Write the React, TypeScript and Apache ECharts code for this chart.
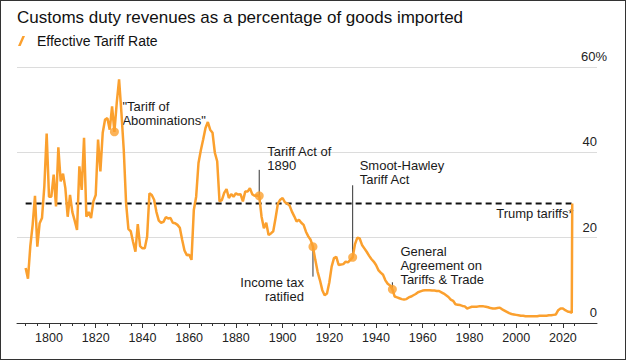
import React, { useEffect, useRef } from 'react';
import * as echarts from 'echarts';

const FONT = '"Liberation Sans", Arial, Helvetica, sans-serif';
const ORANGE = '#FBA02E';

const titleText = 'Customs duty revenues as a percentage of goods imported';
const seriesName = 'Effective Tariff Rate';

// [year, effective tariff rate %]
const tariffSeries: [number, number][] = [
  [1790, 12.9], [1791, 10.4], [1792, 18], [1793, 23], [1794, 29.8], [1795, 17.9], [1796, 23.4], [1797, 24.6],
  [1798, 32], [1799, 44.4], [1800, 29.6], [1801, 29.6], [1802, 34.8], [1803, 27.3], [1804, 41.2], [1805, 33.2],
  [1806, 35], [1807, 31.6], [1808, 24.9], [1809, 30], [1810, 26], [1811, 24], [1812, 21.8], [1813, 36.7],
  [1814, 31.2], [1815, 43.4], [1816, 24.9], [1817, 26], [1818, 24.6], [1819, 28.5], [1820, 30], [1821, 43],
  [1822, 35.5], [1823, 44.6], [1824, 47.7], [1825, 48], [1826, 45.3], [1827, 50.8], [1828, 44.8], [1829, 51.6],
  [1830, 57.1], [1831, 49.3], [1832, 40.6], [1833, 28.1], [1834, 22], [1835, 21.5], [1836, 19], [1837, 16.7],
  [1838, 23.2], [1839, 18], [1840, 17.5], [1841, 17.5], [1842, 20.2], [1843, 30.4], [1844, 30], [1845, 28.9],
  [1846, 26], [1847, 24], [1848, 23.5], [1849, 23.7], [1850, 24.8], [1851, 24.5], [1852, 24.6], [1853, 23.5],
  [1854, 23.4], [1855, 23], [1856, 22.3], [1857, 19.5], [1858, 17], [1859, 15.9], [1860, 16], [1861, 14.8],
  [1862, 26.5], [1863, 29.6], [1864, 37.5], [1865, 40.5], [1866, 43], [1867, 45.7], [1868, 47.1], [1869, 45.3],
  [1870, 44.6], [1871, 39.9], [1872, 37.9], [1873, 28.5], [1874, 28.8], [1875, 30.5], [1876, 31.4], [1877, 29.3],
  [1878, 30.2], [1879, 29.6], [1880, 30.4], [1881, 30.1], [1882, 30.2], [1883, 28.5], [1884, 30.8], [1885, 30.8],
  [1886, 31.6], [1887, 30.2], [1888, 29.8], [1889, 29.9], [1890, 29.8], [1891, 24.9], [1892, 22.2], [1893, 23.5],
  [1894, 20.6], [1895, 21], [1896, 21.5], [1897, 24.6], [1898, 28], [1899, 28.9], [1900, 29.3], [1901, 28.3],
  [1902, 28], [1903, 27.5], [1904, 26.1], [1905, 25], [1906, 23.8], [1907, 24.2], [1908, 23.5], [1909, 23],
  [1910, 21.4], [1911, 20.3], [1912, 19.5], [1913, 17.9], [1914, 14.8], [1915, 12], [1916, 10], [1917, 7.7],
  [1918, 6.5], [1919, 6.9], [1920, 9.5], [1921, 13.2], [1922, 15.2], [1923, 15.5], [1924, 13.6], [1925, 13.7],
  [1926, 13.8], [1927, 14.4], [1928, 14.2], [1929, 14.8], [1930, 15.4], [1931, 18.5], [1932, 20], [1933, 19.8],
  [1934, 18.3], [1935, 17.5], [1936, 16.7], [1937, 15.8], [1938, 15], [1939, 14.4], [1940, 13.6], [1941, 12.4],
  [1942, 11.8], [1943, 11.3], [1944, 10], [1945, 9.2], [1946, 8.8], [1947, 7.9], [1948, 6.2], [1949, 6],
  [1950, 5.8], [1951, 5.6], [1952, 5.5], [1953, 5.6], [1954, 6], [1955, 6.2], [1956, 6.5], [1957, 6.8],
  [1958, 7.2], [1959, 7.4], [1960, 7.6], [1961, 7.7], [1962, 7.7], [1963, 7.7], [1964, 7.6], [1965, 7.6],
  [1966, 7.5], [1967, 7.5], [1968, 7.2], [1969, 6.9], [1970, 6.5], [1971, 6.1], [1972, 5.5], [1973, 5.2],
  [1974, 4.4], [1975, 4.3], [1976, 4.2], [1977, 4], [1978, 3.9], [1979, 3.4], [1980, 3.6], [1981, 3.8],
  [1982, 3.8], [1983, 3.8], [1984, 3.9], [1985, 3.9], [1986, 3.9], [1987, 3.8], [1988, 3.7], [1989, 3.5],
  [1990, 3.4], [1991, 3.4], [1992, 3.5], [1993, 3.6], [1994, 3.2], [1995, 2.9], [1996, 2.6], [1997, 2.3],
  [1998, 2.1], [1999, 2], [2000, 1.9], [2001, 1.8], [2002, 1.7], [2003, 1.7], [2004, 1.6], [2005, 1.6],
  [2006, 1.6], [2007, 1.6], [2008, 1.6], [2009, 1.6], [2010, 1.7], [2011, 1.7], [2012, 1.7], [2013, 1.7],
  [2014, 1.8], [2015, 1.8], [2016, 1.9], [2017, 2], [2018, 3], [2019, 3.4], [2020, 3.4], [2021, 3],
  [2022, 2.7], [2023, 2.6], [2023.8, 2.4], [2024, 28],
];

const eventYears = [1828, 1890, 1913, 1930, 1947];
const eventRates = [44.8, 29.8, 17.9, 15.4, 7.9];
const eventLabels = [
  '"Tariff of\nAbominations"',
  'Tariff Act of\n1890',
  'Income tax\nratified',
  'Smoot-Hawley\nTariff Act',
  'General\nAgreement on\nTariffs & Trade',
];

const trumpRate = 28;
const trumpSpan = [1790, 2023.7];
const trumpLabel = 'Trump tariffs*';

const xMin = 1786.3;
const xMax = 2034.6;
const xLabelYears = [1800, 1820, 1840, 1860, 1880, 1900, 1920, 1940, 1960, 1980, 2000, 2020];
const xTickYears = [
  1790, 1795, 1800, 1805, 1810, 1815, 1820, 1825, 1830, 1835, 1840, 1845, 1850, 1855, 1860, 1865,
  1870, 1875, 1880, 1885, 1890, 1895, 1900, 1905, 1910, 1915, 1920, 1925, 1930, 1935, 1940, 1945,
  1950, 1955, 1960, 1965, 1970, 1975, 1980, 1985, 1990, 1995, 2000, 2005, 2010, 2015, 2020, 2025,
];
const yMin = 0;
const yMax = 60;
const yStep = 20;
const yLowerLabels = [0, 20, 40];
const yTopLabel = [60];

// annotation layout, pixel offsets from the event marker
const annotLayout = [
  { line: [-10, 0], dx: 8, dy: -32, align: 'left' },
  { line: [-26, 0], dx: 8, dy: -51, align: 'left' },
  { line: [0, 30], dx: -9, dy: 28.5, align: 'right' },
  { line: [-72, 0], dx: 7, dy: -99, align: 'left' },
  { line: [-7, 0], dx: 8, dy: -44.5, align: 'left' },
];

export default function App() {
  const ref = useRef<HTMLDivElement>(null);

  useEffect(() => {
    if (!ref.current) return;
    const chart = echarts.init(ref.current, null, { renderer: 'svg' });
    const yLabelBase = {
      inside: true,
      verticalAlign: 'bottom',
      padding: [0, 0, 4, 0],
      color: '#222',
      fontSize: 13,
      fontFamily: FONT,
    };
    const option: any = {
      animation: false,
      textStyle: { fontFamily: FONT },
      title: {
        text: titleText,
        left: 12,
        top: 4,
        textStyle: { fontSize: 17, fontWeight: 'normal', color: '#111', fontFamily: FONT },
      },
      legend: {
        left: 13,
        top: 29,
        itemWidth: 7,
        itemHeight: 10,
        data: [{ name: seriesName, icon: 'path://M4.4,0 L7,0 L2.6,10 L0,10 Z' }],
        textStyle: { fontSize: 14, color: '#111', fontFamily: FONT, padding: [0, 0, 0, 7] },
        selectedMode: false,
      },
      grid: { left: 17, right: 29, top: 67, bottom: 37 },
      xAxis: [
        {
          type: 'value',
          min: xMin,
          max: xMax,
          position: 'bottom',
          axisLine: { show: true, lineStyle: { color: '#333', width: 1 } },
          axisTick: { show: true, customValues: xTickYears, length: 3, lineStyle: { color: '#333' } },
          axisLabel: {
            customValues: xLabelYears,
            formatter: (v: number) => String(v),
            fontSize: 12.5,
            color: '#222',
            margin: 8,
            fontFamily: FONT,
          },
          splitLine: { show: false },
        },
        {
          type: 'value',
          min: xMin,
          max: xMax,
          position: 'bottom',
          axisLine: { show: false },
          axisTick: { show: true, customValues: xLabelYears, length: 5, lineStyle: { color: '#333' } },
          axisLabel: { show: false },
          splitLine: { show: false },
        },
      ],
      yAxis: [
        {
          type: 'value',
          position: 'right',
          min: yMin,
          max: yMax,
          interval: yStep,
          axisLine: { show: false },
          axisTick: { show: false },
          splitLine: { show: true, lineStyle: { color: '#dcdcdc', width: 1 } },
          axisLabel: {
            ...yLabelBase,
            margin: 0,
            customValues: yLowerLabels,
            formatter: (v: number) => String(v),
          },
        },
        {
          type: 'value',
          position: 'right',
          min: yMin,
          max: yMax,
          interval: yStep,
          axisLine: { show: false },
          axisTick: { show: false },
          splitLine: { show: false },
          axisLabel: {
            ...yLabelBase,
            margin: -10,
            customValues: yTopLabel,
            formatter: (v: number) => v + '%',
          },
        },
      ],
      series: [
        {
          name: seriesName,
          type: 'line',
          data: tariffSeries,
          showSymbol: false,
          lineStyle: { color: ORANGE, width: 2.5 },
          itemStyle: { color: ORANGE },
          z: 3,
          silent: true,
        },
        {
          name: 'Trump tariffs',
          type: 'line',
          data: [
            [trumpSpan[0], trumpRate],
            [trumpSpan[1], trumpRate],
          ],
          showSymbol: false,
          lineStyle: { color: '#111', width: 2, type: [6, 4] },
          z: 2,
          silent: true,
        },
        {
          name: 'Events',
          type: 'scatter',
          data: eventYears.map((y, i) => [y, eventRates[i]]),
          symbolSize: 9,
          itemStyle: { color: ORANGE },
          z: 5,
          silent: true,
        },
      ],
    };
    chart.setOption(option);

    const px = (x: number, y: number) => chart.convertToPixel({ seriesIndex: 0 }, [x, y]) as number[];
    const graphics: any[] = [];
    eventYears.forEach((yr, i) => {
      const [mx, my] = px(yr, eventRates[i]);
      const L = annotLayout[i];
      graphics.push({
        type: 'line',
        silent: true,
        shape: { x1: mx, y1: my + L.line[0], x2: mx, y2: my + L.line[1] },
        style: { stroke: '#333', lineWidth: 1 },
      });
      graphics.push({
        type: 'text',
        silent: true,
        style: {
          text: eventLabels[i],
          x: mx + L.dx,
          y: my + L.dy,
          align: L.align,
          verticalAlign: 'top',
          fill: '#1a1a1a',
          fontSize: 13,
          fontFamily: FONT,
          lineHeight: 14,
        },
      });
    });
    const [tx, ty] = px(trumpSpan[1], trumpRate);
    graphics.push({
      type: 'text',
      silent: true,
      style: {
        text: trumpLabel,
        x: tx + 2,
        y: ty + 10,
        align: 'right',
        verticalAlign: 'middle',
        fill: '#1a1a1a',
        fontSize: 13,
        fontFamily: FONT,
      },
    });
    chart.setOption({ graphic: graphics });

    return () => chart.dispose();
  }, []);

  return (
    <div style={{ position: 'fixed', left: 0, top: 0, width: 626, height: 360, background: '#fff' }}>
      <div ref={ref} style={{ width: 626, height: 360 }} />
      <div
        style={{
          position: 'absolute',
          left: 0,
          top: 0,
          width: 626,
          height: 360,
          boxSizing: 'border-box',
          border: '1px solid #333',
          pointerEvents: 'none',
        }}
      />
    </div>
  );
}
